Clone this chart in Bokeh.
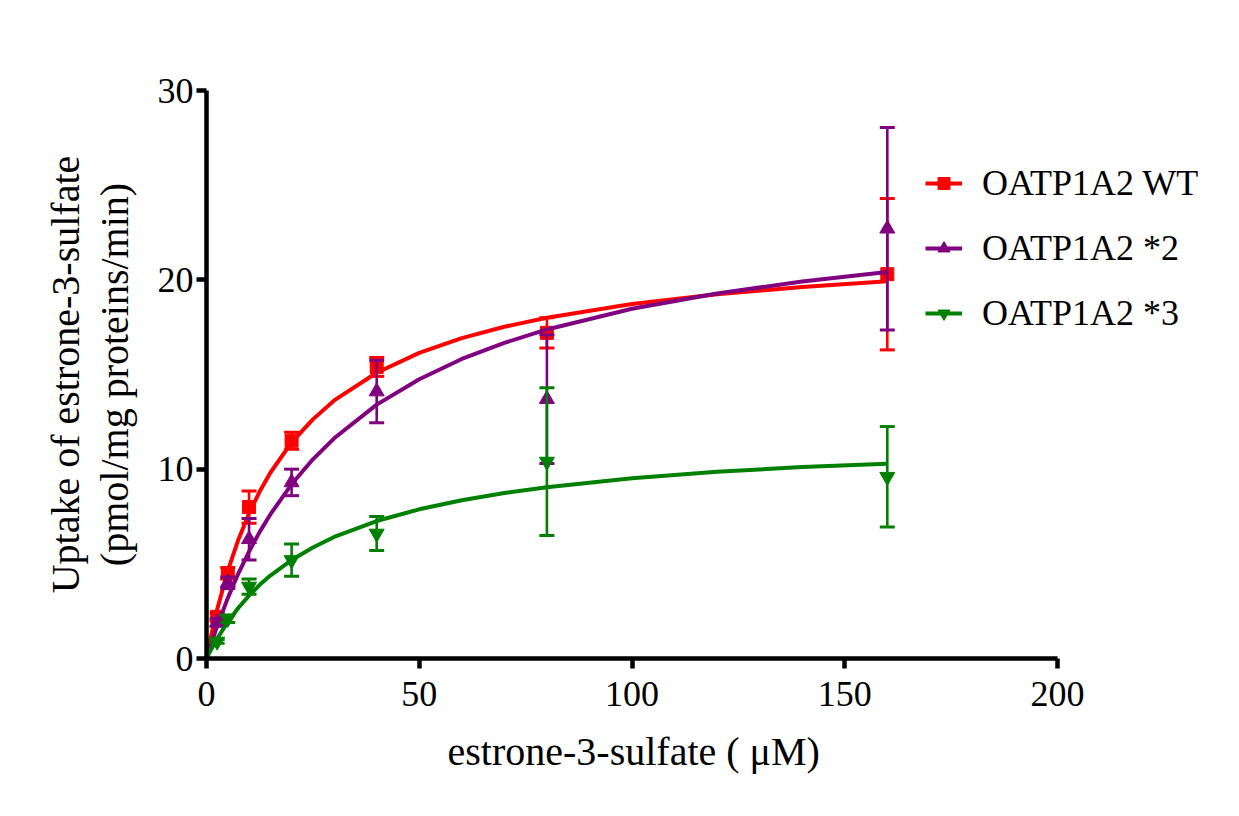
from bokeh.plotting import figure
from bokeh.models import (LinearAxis, FixedTicker, Legend, LegendItem,
                          ColumnDataSource, Range1d, Title)
from bokeh.embed import file_html
from bokeh.resources import INLINE

# ---------------- data ----------------
conc = [2.5, 5, 10, 20, 40, 80, 160]

wt_mean = [2.2, 4.5, 8.0, 11.5, 15.4, 17.2, 20.3]
wt_err = [0.2, 0.3, 0.85, 0.45, 0.5, 0.8, 4.0]

s2_mean = [1.9, 4.0, 6.3, 9.3, 14.1, 13.7, 22.7]
s2_err = [0.2, 0.3, 1.1, 0.7, 1.65, 3.4, 5.35]

s3_mean = [0.9, 2.1, 3.8, 5.2, 6.6, 10.4, 9.6]
s3_err = [0.1, 0.2, 0.4, 0.85, 0.9, 3.9, 2.65]

# fitted saturation curves
fit_x = [0, 1, 2.5, 5, 7.5, 10, 12.5, 15, 20, 25, 30, 40, 50, 60, 70, 80,
         100, 120, 140, 160]
wt_fit = [0, 1.11, 2.58, 4.63, 6.29, 7.66, 8.82, 9.81, 11.41, 12.63, 13.63,
          15.09, 16.14, 16.92, 17.52, 18.0, 18.72, 19.24, 19.62, 19.92]
s2_fit = [0, 0.71, 1.71, 3.19, 4.50, 5.65, 6.69, 7.61, 9.2, 10.52, 11.63,
          13.41, 14.75, 15.82, 16.67, 17.38, 18.47, 19.28, 19.91, 20.41]
s3_fit = [0, 0.44, 1.05, 1.93, 2.68, 3.32, 3.89, 4.38, 5.2, 5.86, 6.42,
          7.26, 7.88, 8.36, 8.74, 9.05, 9.52, 9.86, 10.11, 10.29]

labels = ["OATP1A2 WT", "OATP1A2 *2", "OATP1A2 *3"]
colors = ["#FF0000", "#800080", "#008000"]
markers = ["square", "triangle", "inverted_triangle"]

x_ticks = [0, 50, 100, 150, 200]
y_ticks = [0, 10, 20, 30]
x_title = "estrone-3-sulfate ( \u03bcM)"
y_title_1 = "Uptake of estrone-3-sulfate"
y_title_2 = "(pmol/mg proteins/min)"

FONT = "Liberation Serif"

# ---------------- figure ----------------
frame_w, frame_h = 1024, 568
axis_px = 851  # pixel length of the drawn 0..200 x axis
x_end = x_ticks[-1] * frame_w / axis_px

p = figure(frame_width=frame_w, frame_height=frame_h,
           x_range=Range1d(0, x_end), y_range=Range1d(0, 30),
           output_backend="svg", toolbar_location=None,
           min_border_left=206, min_border_top=90, min_border_bottom=135,
           min_border_right=0, outline_line_color=None,
           background_fill_color="white", border_fill_color="white")
p.grid.visible = False

# x axis
xa = p.xaxis[0]
xa.ticker = FixedTicker(ticks=x_ticks)
xa.bounds = (x_ticks[0], x_ticks[-1])
xa.axis_line_width = 4.5
xa.major_tick_line_width = 4.5
xa.major_tick_out = 10
xa.major_tick_in = 0
xa.minor_tick_out = 0
xa.minor_tick_in = 0
xa.major_label_standoff = 13
xa.major_label_text_font = FONT
xa.major_label_text_font_size = "36px"
xa.major_label_text_color = "black"

# x title centred under the drawn 0..200 axis
xt = Title(text=x_title, align="left", offset=241, standoff=36,
           text_font=FONT, text_font_size="40px", text_font_style="normal",
           text_color="black")
p.add_layout(xt, "below")

# y axis (inner: ticks + second label line)
ya = p.yaxis[0]
ya.ticker = FixedTicker(ticks=y_ticks)
ya.axis_line_width = 4.5
ya.major_tick_line_width = 4.5
ya.major_tick_out = 10
ya.major_tick_in = 0
ya.minor_tick_out = 0
ya.minor_tick_in = 0
ya.major_label_standoff = 3
ya.major_label_text_font = FONT
ya.major_label_text_font_size = "36px"
ya.major_label_text_color = "black"
ya.axis_label = y_title_2
ya.axis_label_text_font = FONT
ya.axis_label_text_font_size = "40px"
ya.axis_label_text_font_style = "normal"
ya.axis_label_text_color = "black"
ya.axis_label_standoff = 18

# outer label-only axis for the first line of the y title
ya2 = LinearAxis(ticker=FixedTicker(ticks=[]), axis_line_color=None,
                 major_tick_out=0, major_tick_in=0, minor_tick_out=0,
                 minor_tick_in=0, axis_label=y_title_1,
                 axis_label_text_font=FONT, axis_label_text_font_size="40px",
                 axis_label_text_font_style="normal",
                 axis_label_text_color="black", axis_label_standoff=1)
p.add_layout(ya2, "left")

# ---------------- series ----------------
series = [(wt_mean, wt_err, wt_fit), (s2_mean, s2_err, s2_fit),
          (s3_mean, s3_err, s3_fit)]
items = []
for (mean, err, fit), lab, col, mk in zip(series, labels, colors, markers):
    lo = [m - e for m, e in zip(mean, err)]
    hi = [m + e for m, e in zip(mean, err)]
    src = ColumnDataSource(dict(x=conc, y=mean, lo=lo, hi=hi))
    fsrc = ColumnDataSource(dict(x=fit_x, y=fit))
    ln = p.line("x", "y", source=fsrc, line_color=col, line_width=4,
                line_join="round")
    p.segment(x0="x", y0="lo", x1="x", y1="hi", source=src,
              line_color=col, line_width=2.6)
    p.scatter("x", "hi", source=src, marker="dash", size=15,
              line_color=col, line_width=3)
    p.scatter("x", "lo", source=src, marker="dash", size=15,
              line_color=col, line_width=3)
    sc = p.scatter("x", "y", source=src, marker=mk,
                   size=13 if mk == "square" else 15,
                   fill_color=col, line_color=col)
    items.append(LegendItem(label=lab, renderers=[ln, sc]))

legend = Legend(items=items, location=(719, 324), glyph_width=37,
                glyph_height=30, label_height=30, spacing=23,
                label_standoff=20, padding=0, margin=0,
                border_line_color=None, background_fill_alpha=0,
                label_text_font=FONT, label_text_font_size="36px",
                label_text_color="black")
p.add_layout(legend)

open("out.html", "w").write(file_html(p, INLINE))
